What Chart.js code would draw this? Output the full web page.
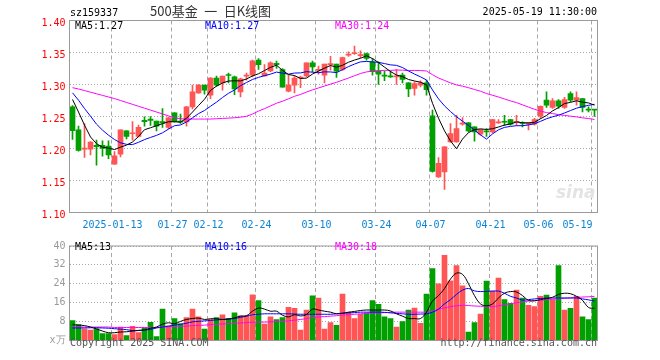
<!DOCTYPE html>
<html><head><meta charset="utf-8">
<script src="https://cdn.jsdelivr.net/npm/chart.js@4.4.1/dist/chart.umd.min.js"></script>
<style>
html,body{margin:0;padding:0;background:#fff;}
#wrap{position:relative;width:660px;height:360px;overflow:hidden;font-family:'DejaVu Sans Mono',monospace;font-size:10px;}
canvas{position:absolute;left:0;}
.t{position:absolute;white-space:pre;line-height:12px;}
</style></head><body>
<div id="wrap">
<canvas id="kc" width="660" height="236" style="top:0"></canvas>
<canvas id="vc" width="660" height="124" style="top:236px"></canvas>
<div class="t" style="left:70px;top:7px;color:#000">sz159337</div>
<div class="t" style="left:150px;top:3px;font-family:'Noto Sans CJK SC';font-size:13px;line-height:16px;color:#333">500基金&#8194;一&#8194;日K线图</div>
<div class="t" style="right:63px;top:6px;color:#000">2025-05-19 11:30:00</div>
<div class="t" style="left:75px;top:20px;color:#000">MA5:1.27</div>
<div class="t" style="left:205px;top:20px;color:#0000ff">MA10:1.27</div>
<div class="t" style="left:335px;top:20px;color:#ff00ff">MA30:1.24</div>
<div class="t" style="left:75px;top:241px;color:#000">MA5:13</div>
<div class="t" style="left:205px;top:241px;color:#0000ff">MA10:16</div>
<div class="t" style="left:335px;top:241px;color:#ff00ff">MA30:18</div>
<div class="t" style="left:70px;top:337px;color:#555">Copyright 2025 SINA.COM</div>
<div class="t" style="right:63px;top:337px;color:#555">http://finance.sina.com.cn</div>
<div class="t" style="left:556px;top:182px;color:#e4e4e4;font-family:'DejaVu Sans';font-style:italic;font-weight:bold;font-size:17px;line-height:20px">sina</div>
</div>
<script>
const dates = ['2025-01-02','2025-01-03','2025-01-06','2025-01-07','2025-01-08','2025-01-09','2025-01-10','2025-01-13','2025-01-14','2025-01-15','2025-01-16','2025-01-17','2025-01-20','2025-01-21','2025-01-22','2025-01-23','2025-01-24','2025-01-27',
'2025-02-05','2025-02-06','2025-02-07','2025-02-10','2025-02-11','2025-02-12','2025-02-13','2025-02-14','2025-02-17','2025-02-18','2025-02-19','2025-02-20','2025-02-21','2025-02-24','2025-02-25','2025-02-26','2025-02-27','2025-02-28',
'2025-03-03','2025-03-04','2025-03-05','2025-03-06','2025-03-07','2025-03-10','2025-03-11','2025-03-12','2025-03-13','2025-03-14','2025-03-17','2025-03-18','2025-03-19','2025-03-20','2025-03-21','2025-03-24','2025-03-25','2025-03-26','2025-03-27','2025-03-28','2025-03-31',
'2025-04-01','2025-04-02','2025-04-03','2025-04-07','2025-04-08','2025-04-09','2025-04-10','2025-04-11','2025-04-14','2025-04-15','2025-04-16','2025-04-17','2025-04-18','2025-04-21','2025-04-22','2025-04-23','2025-04-24','2025-04-25','2025-04-28','2025-04-29','2025-04-30',
'2025-05-06','2025-05-07','2025-05-08','2025-05-09','2025-05-12','2025-05-13','2025-05-14','2025-05-15','2025-05-16','2025-05-19'];

const tickDates = ['2025-01-13','2025-01-27','2025-02-12','2025-02-24','2025-03-10','2025-03-24','2025-04-07','2025-04-21','2025-05-06','2025-05-19'];
const tickTexts = ['2025-01-13','01-27','02-12','02-24','03-10','03-24','04-07','04-21','05-06','05-19'];

const opens = [1.265,1.229,1.199,1.199,1.205,1.205,1.2036,1.1755,1.191,1.2276,1.223,1.219,1.244,1.246,1.2427,1.242,1.2328,1.2557,1.243,1.2417,
1.265,1.287,1.299,1.2833,1.310,1.3026,1.315,1.312,1.2885,1.313,1.3146,1.338,1.3135,1.3214,1.333,1.3234,1.2896,1.299,1.310,1.3135,
1.334,1.322,1.3146,1.331,1.3318,1.3234,1.346,1.348,1.345,1.3484,1.3354,1.3214,1.3135,1.313,1.312,1.3146,1.3026,1.2938,1.299,1.3026,
1.251,1.1557,1.1635,1.2104,1.2104,1.238,1.240,1.2338,1.2224,1.227,1.226,1.240,1.242,1.2453,1.241,1.240,1.238,1.238,1.2505,1.2755,
1.264,1.2745,1.264,1.286,1.2755,1.278,1.261,1.261];
const highs = [1.267,1.235,1.239,1.211,1.213,1.212,1.212,1.195,1.229,1.228,1.242,1.2365,1.2495,1.250,1.243,1.2625,1.249,1.256,1.2536,1.266,
1.299,1.300,1.299,1.311,1.313,1.313,1.318,1.313,1.310,1.318,1.338,1.3406,1.331,1.3354,1.3365,1.325,1.3146,1.3135,1.313,1.334,
1.3365,1.3286,1.332,1.344,1.332,1.343,1.351,1.360,1.3526,1.349,1.3406,1.3354,1.321,1.321,1.3234,1.318,1.303,1.304,1.3057,1.3068,
1.26,1.186,1.203,1.239,1.252,1.2484,1.241,1.234,1.230,1.231,1.2455,1.245,1.252,1.2455,1.252,1.2415,1.241,1.247,1.2665,1.2885,
1.278,1.2766,1.280,1.2885,1.2885,1.278,1.265,1.261];
const lows = [1.214,1.196,1.186,1.190,1.174,1.188,1.184,1.175,1.187,1.215,1.213,1.218,1.235,1.236,1.2276,1.2328,1.231,1.241,1.239,1.235,
1.262,1.286,1.285,1.278,1.297,1.291,1.3026,1.284,1.2807,1.3068,1.312,1.3234,1.313,1.320,1.325,1.296,1.2885,1.287,1.295,1.312,
1.3198,1.316,1.3026,1.3224,1.311,1.322,1.344,1.347,1.342,1.338,1.3146,1.300,1.306,1.311,1.300,1.3026,1.281,1.2833,1.2964,1.2833,
1.163,1.1547,1.136,1.210,1.210,1.2365,1.226,1.2115,1.221,1.219,1.2245,1.239,1.236,1.2365,1.236,1.2338,1.229,1.2365,1.2469,1.264,
1.2625,1.2625,1.2625,1.273,1.2677,1.2573,1.257,1.250];
const closes = [1.228,1.197,1.200,1.210,1.203,1.200,1.190,1.1885,1.229,1.219,1.224,1.233,1.242,1.244,1.235,1.240,1.248,1.242,1.241,1.265,
1.2885,1.299,1.291,1.310,1.299,1.313,1.314,1.293,1.309,1.314,1.337,1.331,1.318,1.334,1.331,1.296,1.299,1.310,1.311,1.334,
1.3276,1.323,1.332,1.332,1.321,1.342,1.347,1.349,1.346,1.3406,1.320,1.316,1.313,1.312,1.313,1.308,1.293,1.3016,1.3026,1.292,
1.164,1.177,1.2026,1.2234,1.2313,1.239,1.2276,1.226,1.2297,1.226,1.2453,1.241,1.241,1.238,1.242,1.239,1.240,1.2453,1.266,1.2677,
1.2745,1.266,1.2766,1.2755,1.2797,1.264,1.260,1.260];

const ma5 = [1.2766,1.257,1.2365,1.218,1.2076,1.2020,1.2006,1.1983,1.2021,1.2053,1.2101,1.2187,1.2294,1.2324,1.2356,1.2388,1.2418,1.2418,1.2412,1.2472,
1.2569,1.2671,1.2769,1.2907,1.2975,1.3024,1.3054,1.3058,1.3056,1.3086,1.3134,1.3168,1.3218,1.3268,1.3302,1.3220,1.3156,1.3140,1.3094,1.3100,
1.3163,1.3211,1.3255,1.3297,1.3271,1.3300,1.3348,1.3382,1.3410,1.3449,1.3405,1.3343,1.3271,1.3203,1.3148,1.3124,1.3078,1.3055,1.3036,1.2994,
1.2706,1.2474,1.2276,1.2118,1.1997,1.2147,1.2248,1.2295,1.2307,1.2297,1.2309,1.2336,1.2366,1.2383,1.2415,1.2402,1.2400,1.2409,1.2465,1.2516,
1.2587,1.2639,1.2702,1.2721,1.2745,1.2724,1.2712,1.2678];
const ma10 = [1.287,1.2755,1.2625,1.2505,1.238,1.2287,1.2208,1.214,1.2089,1.2065,1.2061,1.2097,1.2139,1.2173,1.2205,1.2245,1.2303,1.2356,1.2368,1.2414,
1.2479,1.2545,1.2594,1.2660,1.2724,1.2797,1.2863,1.2914,1.2982,1.3031,1.3079,1.3111,1.3138,1.3162,1.3194,1.3177,1.3162,1.3179,1.3181,1.3201,
1.3192,1.3184,1.3198,1.3196,1.3186,1.3232,1.3280,1.3319,1.3354,1.3360,1.3353,1.3346,1.3327,1.3307,1.3299,1.3265,1.3211,1.3163,1.3120,1.3071,
1.2915,1.2776,1.2666,1.2577,1.2496,1.2427,1.2361,1.2286,1.2213,1.2147,1.2228,1.2292,1.2330,1.2345,1.2356,1.2356,1.2368,1.2387,1.2424,1.2465,
1.2495,1.2520,1.2555,1.2593,1.2630,1.2655,1.2675,1.2690];
const ma30 = [1.295,1.293,1.2905,1.288,1.2855,1.283,1.2805,1.278,1.275,1.272,1.269,1.266,1.263,1.260,1.257,1.254,1.251,1.248,1.2465,1.246,
1.246,1.246,1.246,1.246,1.2465,1.247,1.2475,1.248,1.249,1.2503,1.2539,1.2584,1.2623,1.2665,1.2707,1.2739,1.2776,1.2816,1.2844,1.2882,
1.2916,1.2946,1.2976,1.3006,1.3034,1.3068,1.3101,1.3137,1.3172,1.3197,1.3208,1.3213,1.3221,1.3221,1.3226,1.3224,1.3217,1.3220,1.3218,1.3211,
1.3153,1.3102,1.3063,1.3026,1.2993,1.2974,1.2950,1.2922,1.2895,1.2859,1.2832,1.2805,1.2774,1.2743,1.2717,1.2682,1.2647,1.2612,1.2585,1.2561,
1.2546,1.2529,1.2517,1.2505,1.2494,1.2479,1.2468,1.2454];

const volumes = [8.4,6.7,4.8,4.4,4.9,2.9,2.9,2.5,5.7,2.1,6.0,3.3,5.3,7.7,1.7,13.3,6.1,9.3,7.1,9.7,
13.3,10.0,4.8,8.9,9.7,10.9,9.3,11.7,10.4,10.4,19.3,16.9,6.9,10.0,8.9,9.7,14.0,13.6,4.4,12.9,
18.9,18.0,4.8,7.6,6.4,19.6,11.9,9.3,11.1,11.6,16.9,15.3,10.0,9.3,5.7,8.0,12.9,13.7,7.3,19.6,
30.4,24.0,36.0,25.3,31.7,23.1,3.6,7.6,11.2,25.2,20.9,26.4,17.3,15.7,21.3,18.0,14.9,14.4,18.7,19.2,
17.3,31.7,12.9,13.6,18.7,10.0,8.9,18.0];
const volMa5 = [6.7,6.5,6.3,5.7,4.9,4.0,3.3,3.3,3.6,3.7,4.0,4.3,4.5,5.2,5.7,6.9,7.5,7.1,8.1,8.9,
9.3,9.5,8.9,9.2,9.2,8.9,9.1,9.6,10.3,10.5,12.4,13.7,13.3,12.4,12.4,10.7,10.0,10.9,10.4,11.0,
13.3,12.9,12.4,12.0,11.3,11.5,12.0,12.3,12.7,12.9,12.9,12.9,12.9,12.5,11.3,10.3,9.3,9.3,9.3,12.0,
16.7,19.0,22.0,26.0,28.5,28.0,24.0,19.0,15.5,14.7,15.5,18.0,20.0,20.7,20.5,19.0,17.0,16.8,17.3,17.8,
18.3,19.5,20.0,19.8,18.7,17.0,14.0,13.6];
const volMa10 = [5.3,5.3,5.3,5.4,5.4,5.3,5.2,5.0,4.8,4.6,4.2,4.2,4.4,4.7,5.3,5.7,6.1,6.5,6.9,7.3,
7.9,8.1,8.3,8.5,8.7,8.9,9.1,9.3,9.8,10.3,10.9,11.1,11.3,11.3,11.3,11.3,11.3,11.2,11.1,11.1,
11.1,11.1,11.1,11.1,11.3,11.6,11.7,11.8,12.0,12.0,12.0,12.0,11.9,11.7,11.5,11.3,11.1,11.1,11.2,11.3,
12.0,13.3,15.5,17.3,19.5,21.3,22.0,21.0,20.7,20.8,20.9,20.9,20.0,18.7,18.0,17.1,17.3,17.6,17.8,17.9,
18.0,18.0,18.0,18.0,18.0,17.6,17.2,16.7];
const volMa30 = [5.7,5.7,5.7,5.7,5.7,5.7,5.7,5.5,5.5,5.5,5.5,5.5,5.5,5.5,5.5,5.6,5.8,5.9,6.0,6.1,
6.3,6.4,6.5,6.7,6.8,7.0,7.1,7.3,7.4,7.6,7.7,7.8,7.8,7.9,8.0,8.0,8.3,8.6,8.9,9.3,
9.7,10.0,10.1,10.3,10.5,10.7,10.9,11.1,11.3,11.5,11.6,11.7,11.8,11.9,12.0,12.0,12.0,12.0,12.0,12.0,
12.4,13.2,13.8,14.3,14.7,14.9,14.8,14.6,14.5,14.4,14.3,14.7,15.1,15.5,16.0,16.3,16.7,16.9,17.1,17.3,
17.5,17.7,17.9,18.0,18.2,18.4,18.5,18.7];

const RED = '#ff5555', GREEN = '#00a000';
const candleColors = dates.map((d, i) => closes[i] >= opens[i] ? RED : GREEN);
const tickIdx = tickDates.map(d => dates.indexOf(d));
const MONO = {family: "'DejaVu Sans Mono', monospace", size: 10};
const gridX = ctx => tickIdx.includes(ctx.index) ? '#a8a8a8' : 'rgba(0,0,0,0)';

const frame = {id: 'frame', afterDraw(c) {
  const a = c.chartArea, x = c.ctx;
  x.save(); x.strokeStyle = '#9a9a9a'; x.lineWidth = 1;
  x.strokeRect(a.left, a.top, a.right - a.left, a.bottom - a.top); x.restore();
}};

const lineDs = (data, color, tension) => ({type: 'line', data, borderColor: color, borderWidth: 1,
  pointRadius: 0, tension: tension, fill: false, order: 0});

new Chart(document.getElementById('kc'), {
  type: 'bar',
  data: {
    labels: dates,
    datasets: [
      lineDs(ma5, '#000000', 0),
      lineDs(ma10, '#0000ff', 0),
      lineDs(ma30, '#ff00ff', 0),
      {data: dates.map((d, i) => [opens[i], closes[i]]), backgroundColor: candleColors, borderWidth: 0,
        barThickness: 5, grouped: false, minBarLength: 1, order: 1},
      {data: dates.map((d, i) => [lows[i], highs[i]]), backgroundColor: candleColors, borderWidth: 0,
        barThickness: 1, grouped: false, order: 2}
    ]
  },
  options: {
    responsive: false, animation: false, devicePixelRatio: 1,
    layout: {padding: {top: 20.5, right: 62.5, bottom: 0, left: 0}},
    plugins: {legend: {display: false}, tooltip: {enabled: false}},
    scales: {
      x: {
        offset: true,
        grid: {offset: true, drawTicks: false, color: gridX, lineWidth: 1},
        border: {display: false, dash: [4, 3]},
        ticks: {autoSkip: false, maxRotation: 0, minRotation: 0, padding: 7, labelOffset: -2,
          color: '#0a84d6', font: MONO,
          callback: (v, i) => {
            const k = tickIdx.indexOf(i);
            if (k < 0) return '';
            return k === tickIdx.length - 1 ? tickTexts[k] + '     ' : tickTexts[k];
          }},
        afterFit: s => { s.height = 23.5; }
      },
      y: {
        min: 1.10, max: 1.40,
        grid: {drawTicks: false, color: '#a8a8a8'},
        border: {display: false, dash: [1, 2]},
        ticks: {stepSize: 0.05, color: '#ff0000', padding: 4, labelOffset: 3, font: MONO,
          callback: v => v.toFixed(2)},
        afterFit: s => { s.width = 69.5; }
      }
    }
  },
  plugins: [frame]
});

new Chart(document.getElementById('vc'), {
  type: 'bar',
  data: {
    labels: dates,
    datasets: [
      lineDs(volMa5, '#000000', 0.4),
      lineDs(volMa10, '#0000ff', 0.4),
      lineDs(volMa30, '#ff00ff', 0.4),
      {data: volumes, backgroundColor: candleColors, borderWidth: 0, barThickness: 5, order: 1}
    ]
  },
  options: {
    responsive: false, animation: false, devicePixelRatio: 1,
    layout: {padding: {top: 4.5, right: 62.5, bottom: 19.5, left: 0}},
    plugins: {legend: {display: false}, tooltip: {enabled: false}},
    scales: {
      x: {
        offset: true,
        grid: {offset: true, drawTicks: false, color: gridX, lineWidth: 1},
        border: {display: false, dash: [4, 3]},
        ticks: {display: false},
        afterFit: s => { s.height = 0; }
      },
      y: {
        min: 0, max: 40,
        grid: {drawTicks: false, color: '#a8a8a8'},
        border: {display: false, dash: [1, 2]},
        ticks: {stepSize: 8, color: '#999999', padding: 4, font: MONO,
          callback: v => v === 0 ? 'x万' : String(v)},
        afterFit: s => { s.width = 69.5; }
      }
    }
  },
  plugins: [frame]
});
</script>
</body></html>
